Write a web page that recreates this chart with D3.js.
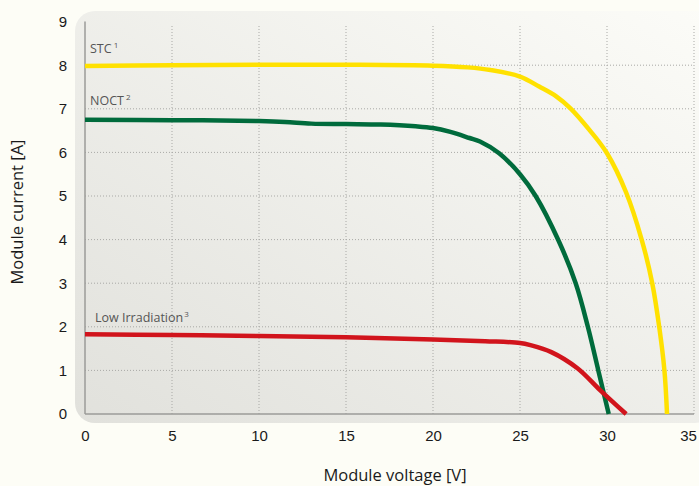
<!DOCTYPE html>
<html>
<head>
<meta charset="utf-8">
<script src="https://cdn.jsdelivr.net/npm/d3@7"></script>
<style>
  html, body { margin: 0; padding: 0; background: #fdfdf6; }
  svg { display: block; font-family: "Open Sans", "Lato", sans-serif; }
</style>
</head>
<body>
<svg id="chart" width="699" height="486"></svg>
<script>
// IV curves of a solar module
const stcVoltage = [0, 5, 10, 15, 20, 22, 23.3, 25, 26.1, 27.1, 27.9, 29.0, 30.0, 31.1, 32.0, 32.6, 33.0, 33.3, 33.45];
const stcCurrent = [7.98, 8.0, 8.01, 8.01, 7.99, 7.95, 7.89, 7.74, 7.51, 7.28, 7.01, 6.51, 5.98, 5.08, 3.99, 3.0, 2.0, 1.0, 0];

const noctVoltage = [0, 5, 10, 11.5, 13, 15, 17, 19, 20, 21, 22.1, 22.7, 23.8, 25, 25.9, 27.2, 28.2, 28.9, 29.5, 30.1];
const noctCurrent = [6.75, 6.74, 6.72, 6.7, 6.66, 6.65, 6.64, 6.6, 6.56, 6.47, 6.33, 6.25, 5.98, 5.5, 5.0, 3.99, 3.0, 2.0, 1.0, 0];

const lowVoltage = [0, 5, 10, 15, 20, 23, 25, 25.6, 26.8, 28.3, 29.6, 31.1];
const lowCurrent = [1.83, 1.81, 1.79, 1.76, 1.71, 1.67, 1.63, 1.58, 1.42, 1.05, 0.55, 0];

const seriesNames = ["STC", "NOCT", "Low Irradiation"];
const seriesNotes = ["1", "2", "3"];
const xTicks = [0, 5, 10, 15, 20, 25, 30, 35];
const yTicks = [0, 1, 2, 3, 4, 5, 6, 7, 8, 9];

const svg = d3.select("#chart");

const x = d3.scaleLinear().domain([0, 35]).range([85, 694]);
const y = d3.scaleLinear().domain([0, 9]).range([414, 21.6]);

// background panel with a soft gradient
let defs = svg.append("defs");
let grad = defs.append("linearGradient").attr("id", "panelGrad")
    .attr("x1", "0%").attr("y1", "100%").attr("x2", "100%").attr("y2", "0%");
grad.append("stop").attr("offset", "0%").attr("stop-color", "#e1e1dc");
grad.append("stop").attr("offset", "100%").attr("stop-color", "#fcfcf8");

svg.append("rect")
    .attr("x", 75).attr("y", 11)
    .attr("width", 640).attr("height", 412)
    .attr("rx", 20).attr("ry", 20)
    .attr("fill", "url(#panelGrad)");

// grid
let grid = svg.append("g").attr("stroke", "#a9a9a6").attr("stroke-width", 1)
    .attr("stroke-dasharray", "1,2");
grid.selectAll("line.v").data(xTicks.filter(d => d > 0)).join("line")
    .attr("class", "v")
    .attr("x1", d => x(d)).attr("x2", d => x(d))
    .attr("y1", y(0)).attr("y2", y(8.9));
grid.selectAll("line.h").data(yTicks.filter(d => d > 0 && d < 9)).join("line")
    .attr("class", "h")
    .attr("x1", x(0)).attr("x2", x(35))
    .attr("y1", d => y(d)).attr("y2", d => y(d));

// axis lines
svg.append("line").attr("x1", x(0)).attr("x2", x(0)).attr("y1", y(0)).attr("y2", y(9))
    .attr("stroke", "#9b9b98").attr("stroke-width", 1.5);
svg.append("line").attr("x1", x(0)).attr("x2", x(35)).attr("y1", y(0)).attr("y2", y(0))
    .attr("stroke", "#9b9b98").attr("stroke-width", 1.5);

// tick labels via d3 axes
let xAxis = svg.append("g").attr("transform", "translate(0," + 426 + ")")
    .call(d3.axisBottom(x).tickValues(xTicks).tickSize(0).tickPadding(0));
xAxis.select(".domain").remove();
xAxis.selectAll("text").attr("font-size", 15).attr("fill", "#1a1a1a").attr("dy", "1em");
// last label sits a little inside the edge, as in the original
xAxis.selectAll(".tick").filter(d => d === 35).select("text").attr("dx", -6);

let yAxis = svg.append("g").attr("transform", "translate(" + 67 + ",0)")
    .call(d3.axisLeft(y).tickValues(yTicks).tickSize(0).tickPadding(0));
yAxis.select(".domain").remove();
yAxis.selectAll("text").attr("font-size", 15).attr("fill", "#1a1a1a");

// curves
const line = d3.line()
    .x(d => x(d[0]))
    .y(d => y(d[1]))
    .curve(d3.curveCatmullRom.alpha(0.5));

const curves = [
    { v: stcVoltage, i: stcCurrent, color: "#ffe100" },
    { v: noctVoltage, i: noctCurrent, color: "#006b3c" },
    { v: lowVoltage, i: lowCurrent, color: "#d1141c" }
];

curves.forEach(c => {
    svg.append("path")
        .datum(d3.zip(c.v, c.i))
        .attr("d", line)
        .attr("fill", "none")
        .attr("stroke", c.color)
        .attr("stroke-width", 4.5);
});

// curve labels
const labelPos = [[90, 53], [90, 105], [95, 322]];
seriesNames.forEach((name, k) => {
    let t = svg.append("text")
        .attr("x", labelPos[k][0]).attr("y", labelPos[k][1])
        .attr("font-size", 12.5).attr("fill", "#555");
    t.append("tspan").text(name);
    t.append("tspan").attr("font-size", 8).attr("dx", k === 2 ? 1 : 2).attr("dy", -5).text(seriesNotes[k]);
});

// axis titles
svg.append("text")
    .attr("x", 395).attr("y", 481)
    .attr("text-anchor", "middle")
    .attr("font-size", 16.5).attr("fill", "#1a1a1a")
    .text("Module voltage [V]");

svg.append("text")
    .attr("transform", "translate(23,212) rotate(-90)")
    .attr("text-anchor", "middle")
    .attr("font-size", 16.5).attr("fill", "#1a1a1a")
    .text("Module current [A]");
</script>
</body>
</html>
